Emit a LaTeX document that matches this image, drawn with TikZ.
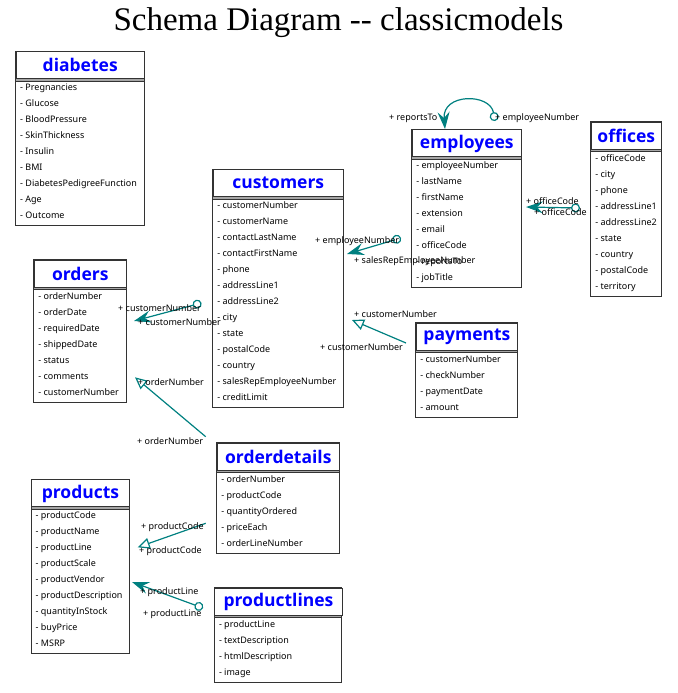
\documentclass[tikz,border=0pt]{standalone}
\usepackage{fontspec}
\setmainfont{Liberation Serif}
\newfontfamily\tablefont{Noto Sans}
\newfontfamily\titlefont{Open Sans}
\usetikzlibrary{arrows.meta}

\definecolor{fkteal}{RGB}{0,128,128}
\definecolor{tblblue}{RGB}{0,0,255}

\tikzset{
  tablehead/.style={draw=black!80, line width=0.9pt, fill=white, anchor=north west, inner sep=0pt,
    font=\titlefont\bfseries\fontsize{17.5}{18}\selectfont, text=tblblue},
  tablebody/.style={draw=black!80, line width=0.9pt, fill=white},
  tableband/.style={draw=black!80, line width=0.9pt, fill=black!35},
  attr/.style={anchor=west, inner sep=0pt, text height=6.6pt, text depth=2pt,
    font=\tablefont\fontsize{9}{10}\selectfont},
  fklabel/.style={anchor=west, inner sep=0pt, text height=6.6pt, text depth=2pt,
    font=\tablefont\fontsize{9}{10}\selectfont},
  fk/.style={draw=fkteal, line width=1.2pt},
  manyend/.style={{Stealth[length=17pt,width=12pt,inset=6pt]}-{Circle[open,length=9pt]}},
  triend/.style={-{Triangle[open,length=12pt,width=11pt]}}
}

% table: name, left, top, right, rows, title, attributes
\newcommand{\dbtable}[7]{%
  \draw[tablebody] (#2,#3) rectangle (#4,{#3+30.5+16*#5});
  \node[tablehead, minimum width={(#4-#2)*1pt}, minimum height=27.5pt] (#1) at (#2,#3) {#6};
  \draw[tableband] (#2,#3+27.5) rectangle (#4,#3+30.2);
  \foreach \a [count=\i] in {#7}
    \node[attr] (#1-\i) at (#2+4.5,{#3+37+16*(\i-1)}) {- \a};
}

\begin{document}
\begin{tikzpicture}[x=1pt,y=-1pt]
\useasboundingbox (0,0) rectangle (677,693);

\node[font=\fontsize{33}{36}\selectfont] (title) at (338.5,23) {Schema Diagram -{}- classicmodels};

% tables
\dbtable{diabetes}{15.5}{51}{144}{9}{diabetes}{Pregnancies,Glucose,BloodPressure,SkinThickness,Insulin,BMI,DiabetesPedigreeFunction,Age,Outcome}
\dbtable{customers}{212.7}{169}{343}{13}{customers}{customerNumber,customerName,contactLastName,contactFirstName,phone,addressLine1,addressLine2,city,state,postalCode,country,salesRepEmployeeNumber,creditLimit}
\dbtable{employees}{411.7}{129.3}{521}{8}{employees}{employeeNumber,lastName,firstName,extension,email,officeCode,reportsTo,jobTitle}
\dbtable{offices}{590.7}{121.7}{661}{9}{offices}{officeCode,city,phone,addressLine1,addressLine2,state,country,postalCode,territory}
\dbtable{orders}{33.7}{259.7}{126}{7}{orders}{orderNumber,orderDate,requiredDate,shippedDate,status,comments,customerNumber}
\dbtable{payments}{415.7}{322.7}{517.3}{4}{payments}{customerNumber,checkNumber,paymentDate,amount}
\dbtable{orderdetails}{216.7}{442.7}{339}{5}{orderdetails}{orderNumber,productCode,quantityOrdered,priceEach,orderLineNumber}
\dbtable{products}{31}{479.3}{129}{9}{products}{productCode,productName,productLine,productScale,productVendor,productDescription,quantityInStock,buyPrice,MSRP}
\dbtable{productlines}{214.3}{587.7}{341.7}{4}{productlines}{productLine,textDescription,htmlDescription,image}

% connector ends
\coordinate (custemp) at (347,254);
\coordinate (empcust) at (401,238);
\coordinate (empself) at (445,129);
\coordinate (selfemp) at (495,121);
\coordinate (empoff) at (526,207);
\coordinate (offemp) at (580,208);
\coordinate (ordcust) at (134,321);
\coordinate (custord) at (201.5,303);
\coordinate (paycust) at (406,343);
\coordinate (custpay) at (352,320);
\coordinate (detord) at (205.7,436.7);
\coordinate (orddet) at (135,377.3);
\coordinate (detprod) at (205.7,523.3);
\coordinate (proddet) at (137.7,547.3);
\coordinate (prodline) at (132,582);
\coordinate (lineprod) at (203,608);

% connectors
\draw[fk, manyend] (custemp) -- (empcust);
\draw[fk, manyend] (empself) .. controls (442,93) and (490,93) .. (selfemp);
\draw[fk, manyend] (empoff) -- (offemp);
\draw[fk, manyend] (ordcust) -- (custord);
\draw[fk, triend] (paycust) -- (custpay);
\draw[fk, triend] (detord) -- (orddet);
\draw[fk, triend] (detprod) -- (proddet);
\draw[fk, manyend] (prodline) -- (lineprod);

% connector labels
\node[fklabel] (l1a) at (315,240.7) {+ employeeNumber};
\node[fklabel] (l1b) at (354,260.7) {+ salesRepEmployeeNumber};
\node[fklabel] (l2a) at (389,117.7) {+ reportsTo};
\node[fklabel] (l2b) at (495,117.7) {+ employeeNumber};
\node[fklabel] (l3a) at (526,201.7) {+ officeCode};
\node[fklabel] (l3b) at (534,212.7) {+ officeCode};
\node[fklabel] (l4a) at (118,309.3) {+ customerNumber};
\node[fklabel] (l4b) at (138,323.3) {+ customerNumber};
\node[fklabel] (l5a) at (354,315) {+ customerNumber};
\node[fklabel] (l5b) at (320,348.3) {+ customerNumber};
\node[fklabel] (l6a) at (137.7,382.7) {+ orderNumber};
\node[fklabel] (l6b) at (137,441.7) {+ orderNumber};
\node[fklabel] (l7a) at (141,527.3) {+ productCode};
\node[fklabel] (l7b) at (139,550.7) {+ productCode};
\node[fklabel] (l8a) at (140,591.7) {+ productLine};
\node[fklabel] (l8b) at (143,614.3) {+ productLine};
\end{tikzpicture}
\end{document}
